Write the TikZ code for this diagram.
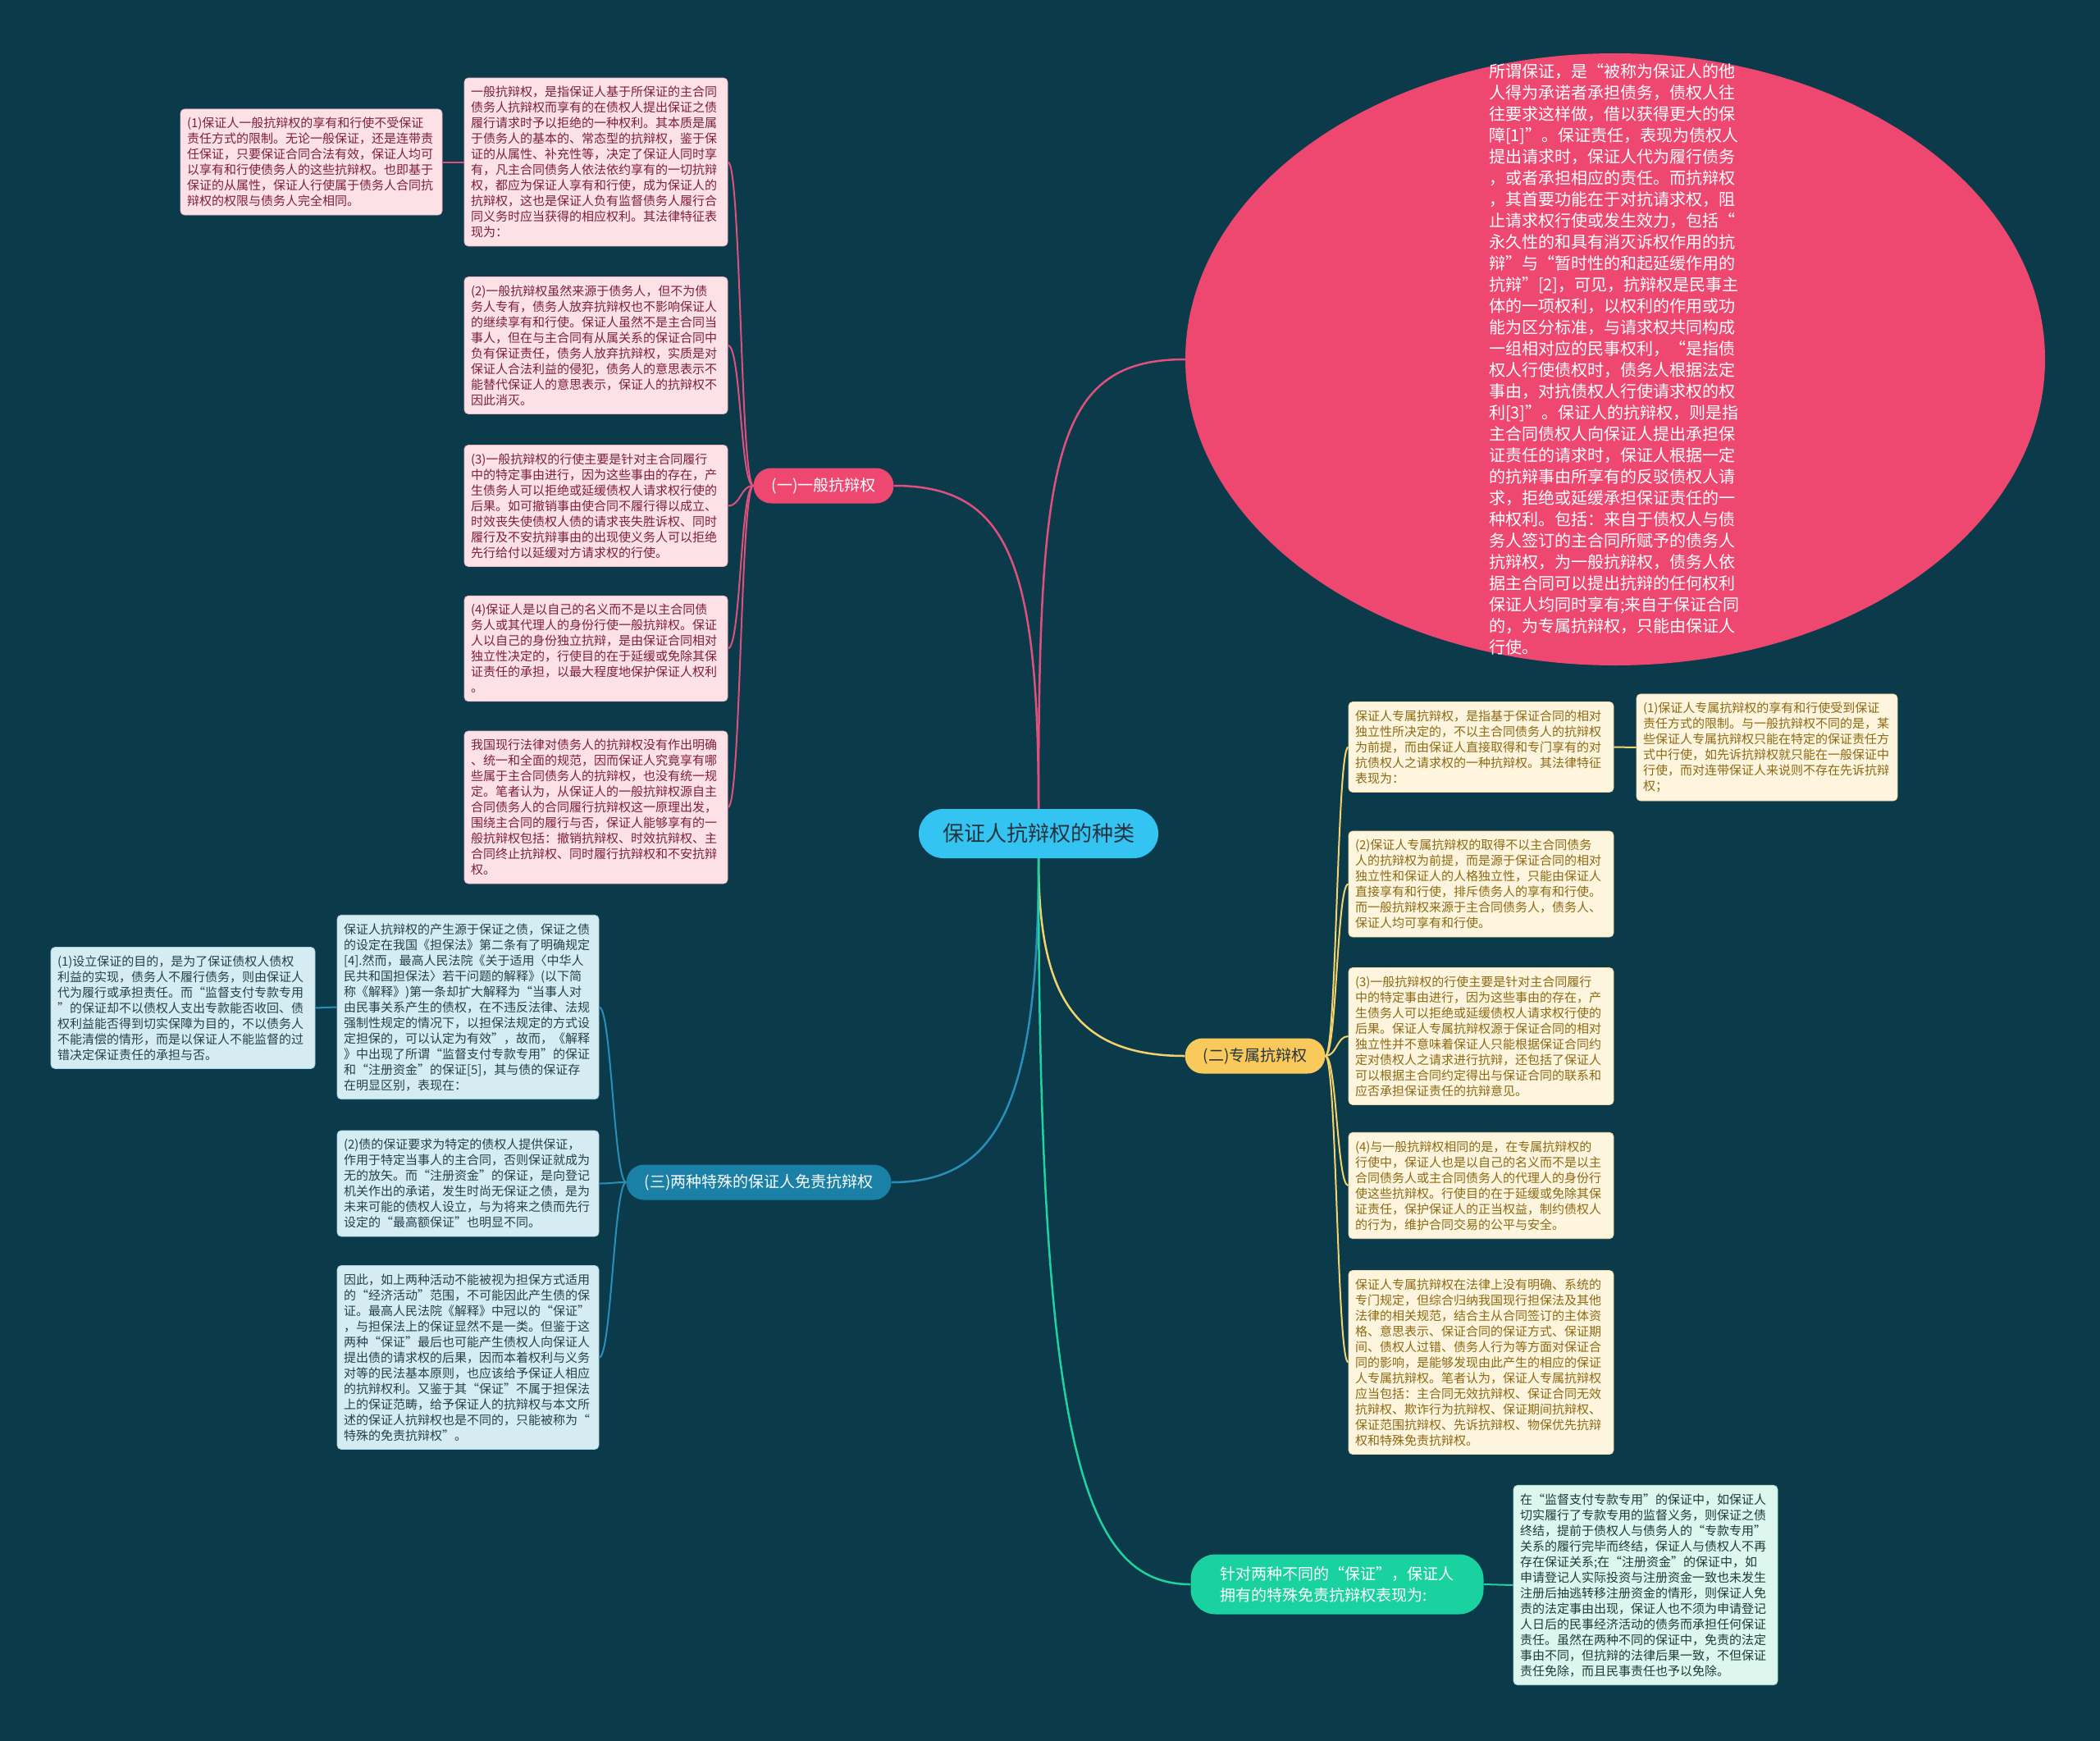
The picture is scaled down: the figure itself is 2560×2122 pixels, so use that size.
\documentclass[tikz,border=0pt]{standalone}
\usepackage{fontspec}
\setmainfont{Noto Sans CJK SC}
\usepackage{tikz}
\usetikzlibrary{shapes.geometric}
\definecolor{bgteal}{HTML}{0B3A4B}
\definecolor{rootblue}{HTML}{33C4F2}
\definecolor{roottext}{HTML}{24343E}
\definecolor{rosered}{HTML}{EF4870}
\definecolor{roseline}{HTML}{E0507E}
\definecolor{rosefill}{HTML}{FCE1E7}
\definecolor{roseedge}{HTML}{F3B3C4}
\definecolor{rosetext}{HTML}{7E1F3E}
\definecolor{goldfill}{HTML}{F9C95C}
\definecolor{goldline}{HTML}{F4D36C}
\definecolor{creamfill}{HTML}{FDF5DD}
\definecolor{creamedge}{HTML}{EEDDA8}
\definecolor{goldtext}{HTML}{8C6914}
\definecolor{seablue}{HTML}{1A80A6}
\definecolor{sealine}{HTML}{2A8FB8}
\definecolor{icefill}{HTML}{D6ECF3}
\definecolor{iceedge}{HTML}{A9D2E0}
\definecolor{icetext}{HTML}{23404D}
\definecolor{mintgreen}{HTML}{1AD29F}
\definecolor{mintline}{HTML}{1FD39F}
\definecolor{mintfill}{HTML}{DDF6EE}
\definecolor{mintedge}{HTML}{A8E6D2}
\definecolor{minttext}{HTML}{1B3C3A}

\begin{document}
\begin{tikzpicture}[x=1pt,y=-1pt,line join=bevel,
  textbox/.style={line width=0.8pt,rounded corners=5pt,align=left,text width=305pt,inner xsep=8pt,inner ysep=10pt,font=\fontsize{15pt}{19pt}\selectfont},
  rosebox/.style={textbox,draw=roseedge,fill=rosefill,text=rosetext},
  creambox/.style={textbox,draw=creamedge,fill=creamfill,text=goldtext},
  icebox/.style={textbox,draw=iceedge,fill=icefill,text=icetext},
  mintbox/.style={textbox,draw=mintedge,fill=mintfill,text=minttext},
  branch/.style={rounded corners=21.5pt,minimum height=43pt,inner xsep=22pt,inner ysep=0pt,font=\fontsize{19pt}{26pt}\selectfont},
  roseline/.style={draw=roseline,line width=2pt},
  goldline/.style={draw=goldline,line width=2pt},
  sealine/.style={draw=sealine,line width=2pt},
  mintline/.style={draw=mintline,line width=2pt},
]
\useasboundingbox (0,0) rectangle (2560,2122);
\fill [bgteal] (0,0) rectangle (2560,2122);
%%
\node (c) at (1266,1016) [fill=rootblue,text=roottext,rounded corners=30pt,minimum width=292pt,minimum height=60pt,font=\fontsize{26pt}{30pt}\selectfont] {保证人抗辩权的种类};
  \node (circ) at (1969,438) [ellipse,fill=rosered,minimum width=1048pt,minimum height=746pt,inner sep=0pt] {};
  \node (circtext) at (1966,438) [text=white,align=left,text width=302pt,inner sep=0pt,font=\fontsize{20pt}{26pt}\selectfont] {所谓保证，是“被称为保证人的他\\人得为承诺者承担债务，债权人往\\往要求这样做，借以获得更大的保\\障[1]”。保证责任，表现为债权人\\提出请求时，保证人代为履行债务\\，或者承担相应的责任。而抗辩权\\，其首要功能在于对抗请求权，阻\\止请求权行使或发生效力，包括“\\永久性的和具有消灭诉权作用的抗\\辩”与“暂时性的和起延缓作用的\\抗辩”[2]，可见，抗辩权是民事主\\体的一项权利，以权利的作用或功\\能为区分标准，与请求权共同构成\\一组相对应的民事权利，“是指债\\权人行使债权时，债务人根据法定\\事由，对抗债权人行使请求权的权\\利[3]”。保证人的抗辩权，则是指\\主合同债权人向保证人提出承担保\\证责任的请求时，保证人根据一定\\的抗辩事由所享有的反驳债权人请\\求，拒绝或延缓承担保证责任的一\\种权利。包括：来自于债权人与债\\务人签订的主合同所赋予的债务人\\抗辩权，为一般抗辩权，债务人依\\据主合同可以提出抗辩的任何权利\\保证人均同时享有;来自于保证合同\\的，为专属抗辩权，只能由保证人\\行使。};
%
\node (b1) at (1004,592) [branch,fill=rosered,text=white] {(一)一般抗辩权};
  \node (b2) at (1530,1287) [branch,fill=goldfill,text=roottext] {(二)专属抗辩权};
  \node (b3) at (925,1441) [branch,fill=seablue,text=white] {(三)两种特殊的保证人免责抗辩权};
  \node (b4) at (1630,1931) [branch,fill=mintgreen,text=white,rounded corners=30pt,minimum height=73pt,inner xsep=36pt,align=left] {针对两种不同的“保证”，保证人\\拥有的特殊免责抗辩权表现为:};
%
\node (p0) at (726.5,197.5) [rosebox] {一般抗辩权，是指保证人基于所保证的主合同\\债务人抗辩权而享有的在债权人提出保证之债\\履行请求时予以拒绝的一种权利。其本质是属\\于债务人的基本的、常态型的抗辩权，鉴于保\\证的从属性、补充性等，决定了保证人同时享\\有，凡主合同债务人依法依约享有的一切抗辩\\权，都应为保证人享有和行使，成为保证人的\\抗辩权，这也是保证人负有监督债务人履行合\\同义务时应当获得的相应权利。其法律特征表\\现为：};
  \node (p1) at (379.5,197.5) [rosebox,text width=303pt] {(1)保证人一般抗辩权的享有和行使不受保证\\责任方式的限制。无论一般保证，还是连带责\\任保证，只要保证合同合法有效，保证人均可\\以享有和行使债务人的这些抗辩权。也即基于\\保证的从属性，保证人行使属于债务人合同抗\\辩权的权限与债务人完全相同。};
  \node (p2) at (726.5,421) [rosebox] {(2)一般抗辩权虽然来源于债务人，但不为债\\务人专有，债务人放弃抗辩权也不影响保证人\\的继续享有和行使。保证人虽然不是主合同当\\事人，但在与主合同有从属关系的保证合同中\\负有保证责任，债务人放弃抗辩权，实质是对\\保证人合法利益的侵犯，债务人的意思表示不\\能替代保证人的意思表示，保证人的抗辩权不\\因此消灭。};
  \node (p3) at (726.5,616.5) [rosebox] {(3)一般抗辩权的行使主要是针对主合同履行\\中的特定事由进行，因为这些事由的存在，产\\生债务人可以拒绝或延缓债权人请求权行使的\\后果。如可撤销事由使合同不履行得以成立、\\时效丧失使债权人债的请求丧失胜诉权、同时\\履行及不安抗辩事由的出现使义务人可以拒绝\\先行给付以延缓对方请求权的行使。};
  \node (p4) at (726.5,790.5) [rosebox] {(4)保证人是以自己的名义而不是以主合同债\\务人或其代理人的身份行使一般抗辩权。保证\\人以自己的身份独立抗辩，是由保证合同相对\\独立性决定的，行使目的在于延缓或免除其保\\证责任的承担，以最大程度地保护保证人权利\\。};
  \node (p5) at (726.5,984) [rosebox] {我国现行法律对债务人的抗辩权没有作出明确\\、统一和全面的规范，因而保证人究竟享有哪\\些属于主合同债务人的抗辩权，也没有统一规\\定。笔者认为，从保证人的一般抗辩权源自主\\合同债务人的合同履行抗辩权这一原理出发，\\围绕主合同的履行与否，保证人能够享有的一\\般抗辩权包括：撤销抗辩权、时效抗辩权、主\\合同终止抗辩权、同时履行抗辩权和不安抗辩\\权。};
%
\node (y0) at (1805.5,910.5) [creambox,text width=307pt] {保证人专属抗辩权，是指基于保证合同的相对\\独立性所决定的，不以主合同债务人的抗辩权\\为前提，而由保证人直接取得和专门享有的对\\抗债权人之请求权的一种抗辩权。其法律特征\\表现为：};
  \node (y1) at (2154,911) [creambox,text width=302pt] {(1)保证人专属抗辩权的享有和行使受到保证\\责任方式的限制。与一般抗辩权不同的是，某\\些保证人专属抗辩权只能在特定的保证责任方\\式中行使，如先诉抗辩权就只能在一般保证中\\行使，而对连带保证人来说则不存在先诉抗辩\\权；};
  \node (y2) at (1805.5,1077.5) [creambox,text width=307pt] {(2)保证人专属抗辩权的取得不以主合同债务\\人的抗辩权为前提，而是源于保证合同的相对\\独立性和保证人的人格独立性，只能由保证人\\直接享有和行使，排斥债务人的享有和行使。\\而一般抗辩权来源于主合同债务人，债务人、\\保证人均可享有和行使。};
  \node (y3) at (1805.5,1263) [creambox,text width=307pt] {(3)一般抗辩权的行使主要是针对主合同履行\\中的特定事由进行，因为这些事由的存在，产\\生债务人可以拒绝或延缓债权人请求权行使的\\后果。保证人专属抗辩权源于保证合同的相对\\独立性并不意味着保证人只能根据保证合同约\\定对债权人之请求进行抗辩，还包括了保证人\\可以根据主合同约定得出与保证合同的联系和\\应否承担保证责任的抗辩意见。};
  \node (y4) at (1805.5,1445) [creambox,text width=307pt] {(4)与一般抗辩权相同的是，在专属抗辩权的\\行使中，保证人也是以自己的名义而不是以主\\合同债务人或主合同债务人的代理人的身份行\\使这些抗辩权。行使目的在于延缓或免除其保\\证责任，保护保证人的正当权益，制约债权人\\的行为，维护合同交易的公平与安全。};
  \node (y5) at (1805.5,1660.5) [creambox,text width=307pt] {保证人专属抗辩权在法律上没有明确、系统的\\专门规定，但综合归纳我国现行担保法及其他\\法律的相关规范，结合主从合同签订的主体资\\格、意思表示、保证合同的保证方式、保证期\\间、债权人过错、债务人行为等方面对保证合\\同的影响，是能够发现由此产生的相应的保证\\人专属抗辩权。笔者认为，保证人专属抗辩权\\应当包括：主合同无效抗辩权、保证合同无效\\抗辩权、欺诈行为抗辩权、保证期间抗辩权、\\保证范围抗辩权、先诉抗辩权、物保优先抗辩\\权和特殊免责抗辩权。};
%
\node (q0) at (570.5,1227.5) [icebox,text width=303pt] {保证人抗辩权的产生源于保证之债，保证之债\\的设定在我国《担保法》第二条有了明确规定\\{}[4].然而，最高人民法院《关于适用〈中华人\\民共和国担保法〉若干问题的解释》(以下简\\称《解释》)第一条却扩大解释为“当事人对\\由民事关系产生的债权，在不违反法律、法规\\强制性规定的情况下，以担保法规定的方式设\\定担保的，可以认定为有效”，故而，《解释\\》中出现了所谓“监督支付专款专用”的保证\\和“注册资金”的保证[5]，其与债的保证存\\在明显区别，表现在：};
  \node (q1) at (223,1228.5) [icebox,text width=306pt] {(1)设立保证的目的，是为了保证债权人债权\\利益的实现，债务人不履行债务，则由保证人\\代为履行或承担责任。而“监督支付专款专用\\”的保证却不以债权人支出专款能否收回、债\\权利益能否得到切实保障为目的，不以债务人\\不能清偿的情形，而是以保证人不能监督的过\\错决定保证责任的承担与否。};
  \node (q2) at (570.5,1442.5) [icebox,text width=303pt] {(2)债的保证要求为特定的债权人提供保证，\\作用于特定当事人的主合同，否则保证就成为\\无的放矢。而“注册资金”的保证，是向登记\\机关作出的承诺，发生时尚无保证之债，是为\\未来可能的债权人设立，与为将来之债而先行\\设定的“最高额保证”也明显不同。};
  \node (q3) at (570.5,1654.5) [icebox,text width=303pt] {因此，如上两种活动不能被视为担保方式适用\\的“经济活动”范围，不可能因此产生债的保\\证。最高人民法院《解释》中冠以的“保证”\\，与担保法上的保证显然不是一类。但鉴于这\\两种“保证”最后也可能产生债权人向保证人\\提出债的请求权的后果，因而本着权利与义务\\对等的民法基本原则，也应该给予保证人相应\\的抗辩权利。又鉴于其“保证”不属于担保法\\上的保证范畴，给予保证人的抗辩权与本文所\\述的保证人抗辩权也是不同的，只能被称为“\\特殊的免责抗辩权”。};
%
\node (g0) at (2006,1932) [mintbox,text width=306pt] {在“监督支付专款专用”的保证中，如保证人\\切实履行了专款专用的监督义务，则保证之债\\终结，提前于债权人与债务人的“专款专用”\\关系的履行完毕而终结，保证人与债权人不再\\存在保证关系;在“注册资金”的保证中，如\\申请登记人实际投资与注册资金一致也未发生\\注册后抽逃转移注册资金的情形，则保证人免\\责的法定事由出现，保证人也不须为申请登记\\人日后的民事经济活动的债务而承担任何保证\\责任。虽然在两种不同的保证中，免责的法定\\事由不同，但抗辩的法律后果一致，不但保证\\责任免除，而且民事责任也予以免除。};
%%
\draw [roseline,line width=2.5pt] (c.north) ..controls +(0,-430) and +(-160,0) .. (circ.west);
  \draw [roseline,line width=2.5pt] (c.north) ..controls +(0,-300) and +(140,0) .. (b1.east);
  \draw [goldline,line width=2.5pt] (c.south) ..controls +(0,160) and +(-140,0) .. (b2.west);
  \draw [sealine,line width=2.5pt] (c.south) ..controls +(0,300) and +(130,0) .. (b3.east);
  \draw [mintline,line width=2.5pt] (c.south) ..controls +(0,720) and +(-130,0) .. (b4.west);
%
\draw [roseline] (b1.west) ..controls +(-16,0) and +(16,0) .. (p0.east);
  \draw [roseline] (b1.west) ..controls +(-16,0) and +(16,0) .. (p2.east);
  \draw [roseline] (b1.west) ..controls +(-16,0) and +(16,0) .. (p3.east);
  \draw [roseline] (b1.west) ..controls +(-16,0) and +(16,0) .. (p4.east);
  \draw [roseline] (b1.west) ..controls +(-16,0) and +(16,0) .. (p5.east);
  \draw [roseline] (p0.west) -- (p1.east);
%
\draw [goldline] (b2.east) ..controls +(14,0) and +(-14,0) .. (y0.west);
  \draw [goldline] (b2.east) ..controls +(14,0) and +(-14,0) .. (y2.west);
  \draw [goldline] (b2.east) ..controls +(14,0) and +(-14,0) .. (y3.west);
  \draw [goldline] (b2.east) ..controls +(14,0) and +(-14,0) .. (y4.west);
  \draw [goldline] (b2.east) ..controls +(14,0) and +(-14,0) .. (y5.west);
  \draw [goldline] (y0.east) -- (y1.west);
%
\draw [sealine] (b3.west) ..controls +(-15,0) and +(15,0) .. (q0.east);
  \draw [sealine] (b3.west) ..controls +(-15,0) and +(15,0) .. (q2.east);
  \draw [sealine] (b3.west) ..controls +(-15,0) and +(15,0) .. (q3.east);
  \draw [sealine] (q0.west) -- (q1.east);
%
\draw [mintline] (b4.east) -- (g0.west);
%
\end{tikzpicture}
\end{document}
